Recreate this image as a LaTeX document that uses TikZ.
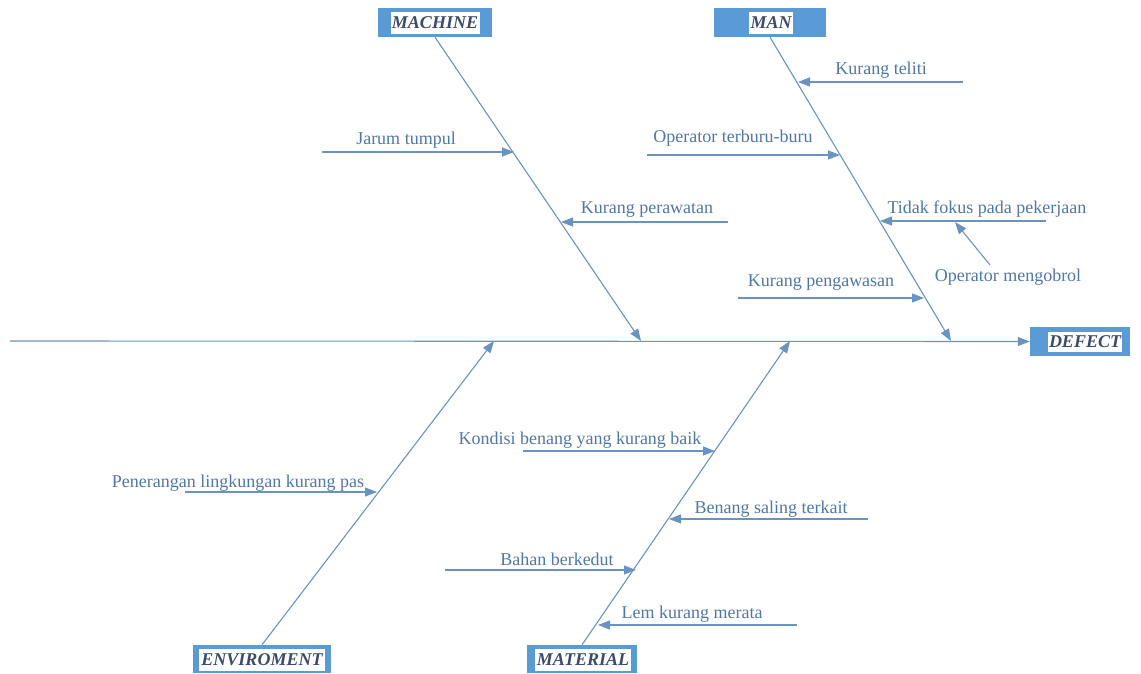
\documentclass[tikz,border=0pt]{standalone}
\usepackage{fontspec}
\setmainfont{Liberation Serif}
\usetikzlibrary{arrows.meta}
\definecolor{boxblue}{HTML}{5B9BD5}
\definecolor{lineblue}{HTML}{6A93C2}
\definecolor{txtblue}{HTML}{4F77A8}
\definecolor{hdtxt}{HTML}{3C4B6B}
\begin{document}
\begin{tikzpicture}[x=1pt,y=-1pt,
  bone/.style={draw=lineblue,line width=1.1pt,-{Triangle[length=12pt,width=9pt]}},
  lbl/.style={text=txtblue,font=\fontsize{18}{20}\selectfont,inner sep=0pt},
  hdbox/.style={fill=boxblue,minimum height=29pt,inner sep=0pt,draw=none},
  hdtext/.style={fill=white,text=hdtxt,font=\fontsize{18}{20}\selectfont\bfseries\itshape,inner sep=1pt,minimum height=22pt}]
\useasboundingbox (0,0) rectangle (1141,674);

% heads
\node[hdbox,minimum width=114pt] (machine) at (435,22.5) {};
\node[hdtext,minimum width=89pt] (machinet) at (435,23) {MACHINE};
\node[hdbox,minimum width=112pt] (man) at (770,22.5) {};
\node[hdtext,minimum width=44pt] (mant) at (771,23) {MAN};
\node[hdbox,minimum width=100pt] (defect) at (1080,341.5) {};
\node[hdtext,minimum width=74pt,minimum height=20pt] (defectt) at (1085,342) {DEFECT};
\node[hdbox,minimum width=138pt,minimum height=28pt] (envir) at (262,659) {};
\node[hdtext,minimum width=126pt] (envirt) at (262,660) {ENVIROMENT};
\node[hdbox,minimum width=110pt,minimum height=28pt] (material) at (582,659) {};
\node[hdtext,minimum width=96pt] (materialt) at (583,660) {MATERIAL};

% spine
\coordinate (tail) at (10,341);
\draw[bone] (tail) -- (defect.west);

% main bones
\coordinate (mA) at (641,341);
\coordinate (nA) at (951,341);
\coordinate (eA) at (494,341);
\coordinate (tA) at (790,341);
\draw[bone] (machine.south) -- (mA);
\draw[bone] (man.south) -- (nA);
\draw[bone] (envir.north) -- (eA);
\draw[bone] (material.north) -- (tA);

% machine causes
\coordinate (j0) at (322,152); \coordinate (j1) at (514,152);
\draw[bone] (j0) -- (j1);
\node[lbl] (jarum) at (406,140) {Jarum tumpul};
\coordinate (p0) at (728,222); \coordinate (p1) at (561,222);
\draw[bone] (p0) -- (p1);
\node[lbl] (perawatan) at (647,210) {Kurang perawatan};

% man causes
\coordinate (k0) at (963,82); \coordinate (k1) at (798,82);
\draw[bone] (k0) -- (k1);
\node[lbl] (teliti) at (881,70) {Kurang teliti};
\coordinate (o0) at (647,155); \coordinate (o1) at (840,155);
\draw[bone] (o0) -- (o1);
\node[lbl] (terburu) at (733,138) {Operator terburu-buru};
\coordinate (t0) at (1046,221); \coordinate (t1) at (880,221);
\draw[bone] (t0) -- (t1);
\node[lbl] (fokus) at (987,209) {Tidak fokus pada pekerjaan};
\node[lbl] (ngobrol) at (1008,277) {Operator mengobrol};
\coordinate (g0) at (990,265); \coordinate (g1) at (955,222);
\draw[bone] (g0) -- (g1);
\coordinate (w0) at (738,298); \coordinate (w1) at (924,298);
\draw[bone] (w0) -- (w1);
\node[lbl] (awas) at (821,283) {Kurang pengawasan};

% environment cause
\coordinate (e0) at (185,492); \coordinate (e1) at (377,492);
\draw[bone] (e0) -- (e1);
\node[lbl] (terang) at (238,483) {Penerangan lingkungan kurang pas};

% material causes
\coordinate (b0) at (523,451); \coordinate (b1) at (715,451);
\draw[bone] (b0) -- (b1);
\node[lbl] (kondisi) at (580,440) {Kondisi benang yang kurang baik};
\coordinate (s0) at (868,519); \coordinate (s1) at (669,519);
\draw[bone] (s0) -- (s1);
\node[lbl] (terkait) at (771,509) {Benang saling terkait};
\coordinate (h0) at (445,570); \coordinate (h1) at (636,570);
\draw[bone] (h0) -- (h1);
\node[lbl] (kedut) at (557,559) {Bahan berkedut};
\coordinate (l0) at (797,625); \coordinate (l1) at (598,625);
\draw[bone] (l0) -- (l1);
\node[lbl] (lem) at (692,614) {Lem kurang merata};
\end{tikzpicture}
\end{document}
